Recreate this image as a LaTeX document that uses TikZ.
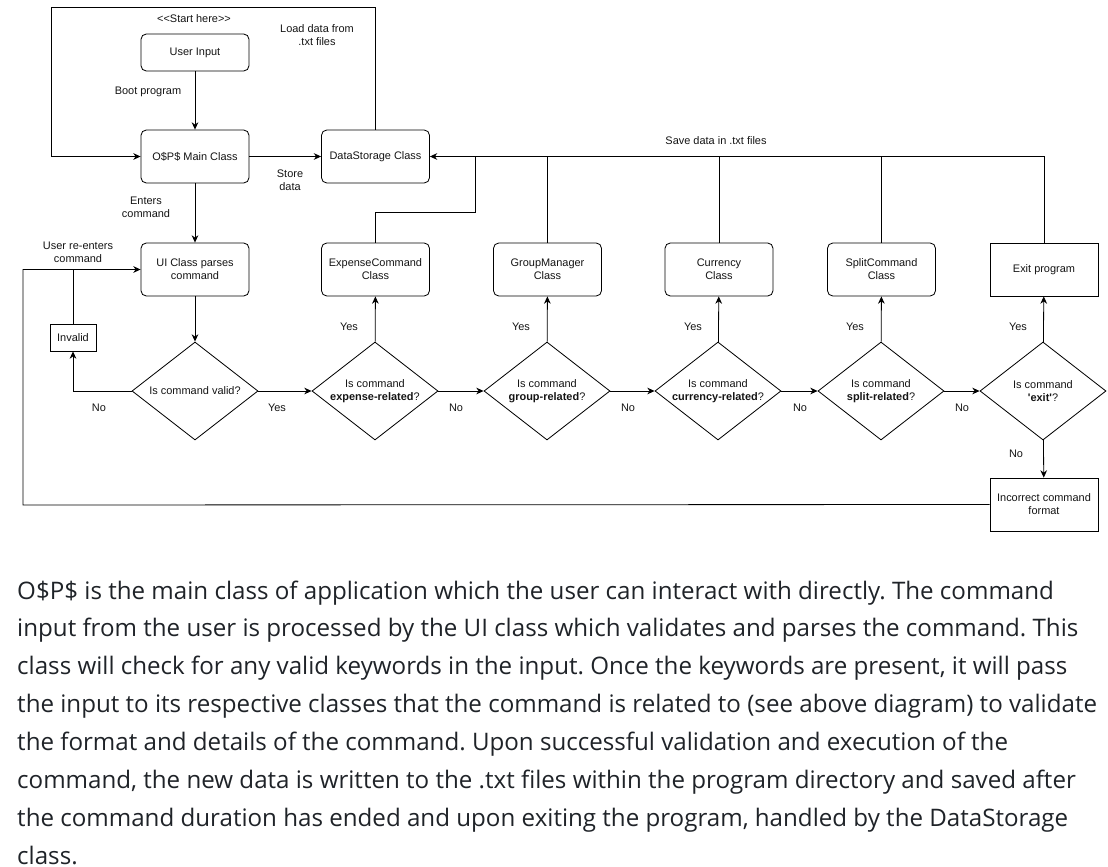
\documentclass[tikz,border=0pt]{standalone}
\usepackage{fontspec}
\setmainfont{Liberation Sans}
\newfontfamily\notefont{Open Sans}
\usepackage{xcolor}
\definecolor{flowline}{RGB}{0,0,0}
\definecolor{flowtext}{RGB}{20,20,20}
\definecolor{notetext}{RGB}{31,35,40}
\usetikzlibrary{arrows.meta, shapes.geometric}

\newcommand{\flowfont}{\fontsize{9.35}{11}\selectfont}
\frenchspacing

\tikzset{
  flowbox/.style={draw=flowline, line width=0.7pt, rounded corners=4.5pt, minimum width=3.24cm,
    minimum height=1.59cm, align=center, inner sep=1pt, font=\flowfont, text=flowtext},
  plainbox/.style={flowbox, rounded corners=0pt},
  decision/.style={diamond, draw=flowline, line width=0.7pt, aspect=1.3, minimum width=3.78cm,
    minimum height=2.94cm, inner sep=0pt, align=center, font=\flowfont, text=flowtext},
  lbl/.style={font=\flowfont, text=flowtext, align=center, inner sep=0pt},
  flow/.style={draw=flowline, line width=0.7pt},
  note/.style={font=\notefont\fontsize{20.6}{32.3}\selectfont, text=notetext, align=left, inner sep=0pt}
}

\begin{document}
\begin{tikzpicture}[x=0.03cm, y=-0.03cm, >={Stealth[length=2.2mm, width=2mm]}]
  \useasboundingbox (0,0) rectangle (1108,867);

  % --- Start and main class ---
  \node[lbl] (starthere) at (194,19) {<{}<Start here>{}>};
  \node[flowbox, minimum height=1.11cm] (input) at (195,52.5) {User Input};
  \node[flowbox] (main) at (195,156.5) {O\$P\$ Main Class};
  \node[flowbox] (store) at (375.5,156.5) {DataStorage Class};
  \node[flowbox] (ui) at (195,269.5) {UI Class parses\\command};
  \node[plainbox, minimum width=1.38cm, minimum height=0.81cm] (invalid) at (73,337.5) {Invalid};

  % --- Decisions ---
  \node[decision] (valid) at (195,391) {Is command valid?};
  \node[decision] (expdec) at (375,391) {Is command\\\textbf{expense-related}?};
  \node[decision] (grpdec) at (547,391) {Is command\\\textbf{group-related}?};
  \node[decision] (curdec) at (718,391) {Is command\\\textbf{currency-related}?};
  \node[decision] (spldec) at (881,391) {Is command\\\textbf{split-related}?};
  \node[decision] (exitdec) at (1043,391) {Is command\\\textbf{\textquotesingle exit\textquotesingle}?};

  % --- Command classes ---
  \node[flowbox] (expcls) at (375.5,269.5) {ExpenseCommand\\Class};
  \node[flowbox] (grpcls) at (547.5,269.5) {GroupManager\\Class};
  \node[flowbox] (curcls) at (719,269.5) {Currency\\Class};
  \node[flowbox] (splcls) at (881.5,269.5) {SplitCommand\\Class};
  \node[plainbox] (exitbox) at (1044,269.5) {Exit program};
  \node[plainbox] (incorrect) at (1044,504.5) {Incorrect command\\format};

  % --- Corner points ---
  \coordinate (loadtop) at (51,7);
  \coordinate (expbend) at (475,212);
  \coordinate (retx) at (23,505);

  % --- Connectors ---
  \draw[flow, ->] (input) -- (main);
  \draw[flow, ->] (main) -- (store);
  \draw[flow, ->] (store.north) |- (loadtop) |- (main.west);
  \draw[flow, ->] (main) -- (ui);
  \draw[flow, ->] (ui) -- (valid);
  \draw[flow, ->] (valid.west) -| (invalid.south);
  \draw[flow] (invalid.north) -- (invalid.north |- ui.west);
  \draw[flow, ->] (incorrect.west) -- (retx) |- (ui.west);
  \draw[flow, ->] (valid) -- (expdec);
  \draw[flow, ->] (expdec) -- (grpdec);
  \draw[flow, ->] (grpdec) -- (curdec);
  \draw[flow, ->] (curdec) -- (spldec);
  \draw[flow, ->] (spldec) -- (exitdec);
  \draw[flow, ->] (expdec) -- (expcls);
  \draw[flow, ->] (grpdec) -- (grpcls);
  \draw[flow, ->] (curdec) -- (curcls);
  \draw[flow, ->] (spldec) -- (splcls);
  \draw[flow, ->] (exitdec) -- (exitbox);
  \draw[flow, ->] (exitdec) -- (incorrect);

  % save bus back to DataStorage
  \draw[flow, ->] (exitbox.north) |- (store.east);
  \draw[flow] (grpcls.north) -- (grpcls.north |- store.east);
  \draw[flow] (curcls.north) -- (curcls.north |- store.east);
  \draw[flow] (splcls.north) -- (splcls.north |- store.east);
  \draw[flow] (expcls.north) |- (expbend) -- (expbend |- store.east);

  % --- Edge labels ---
  \node[lbl] (loadlbl) at (317,35) {Load data from\\.txt files};
  \node[lbl] (bootlbl) at (148,92) {Boot program};
  \node[lbl] (storelbl) at (290,180) {Store\\data};
  \node[lbl] (enterlbl) at (146,207) {Enters\\command};
  \node[lbl] (reenterlbl) at (78,252) {User re-enters\\command};
  \node[lbl] (savelbl) at (716,141) {Save data in .txt files};
  \node[lbl] (novalid) at (99,408) {No};
  \node[lbl] (yesvalid) at (277,408) {Yes};
  \node[lbl] (yesexp) at (349,327) {Yes};
  \node[lbl] (noexp) at (456,408) {No};
  \node[lbl] (yesgrp) at (521,327) {Yes};
  \node[lbl] (nogrp) at (628,408) {No};
  \node[lbl] (yescur) at (693,327) {Yes};
  \node[lbl] (nocur) at (800,408) {No};
  \node[lbl] (yesspl) at (855,327) {Yes};
  \node[lbl] (nospl) at (962,408) {No};
  \node[lbl] (yesexit) at (1018,327) {Yes};
  \node[lbl] (noexit) at (1016,454) {No};

  % --- Description below ---
  \node[note, anchor=base west] (notes) at (17,864) {%
    O\$P\$ is the main class of application which the user can interact with directly. The command\\
    input from the user is processed by the UI class which validates and parses the command. This\\
    class will check for any valid keywords in the input. Once the keywords are present, it will pass\\
    the input to its respective classes that the command is related to (see above diagram) to validate\\
    the format and details of the command. Upon successful validation and execution of the\\
    command, the new data is written to the .txt files within the program directory and saved after\\
    the command duration has ended and upon exiting the program, handled by the DataStorage\\
    class.};
\end{tikzpicture}
\end{document}
